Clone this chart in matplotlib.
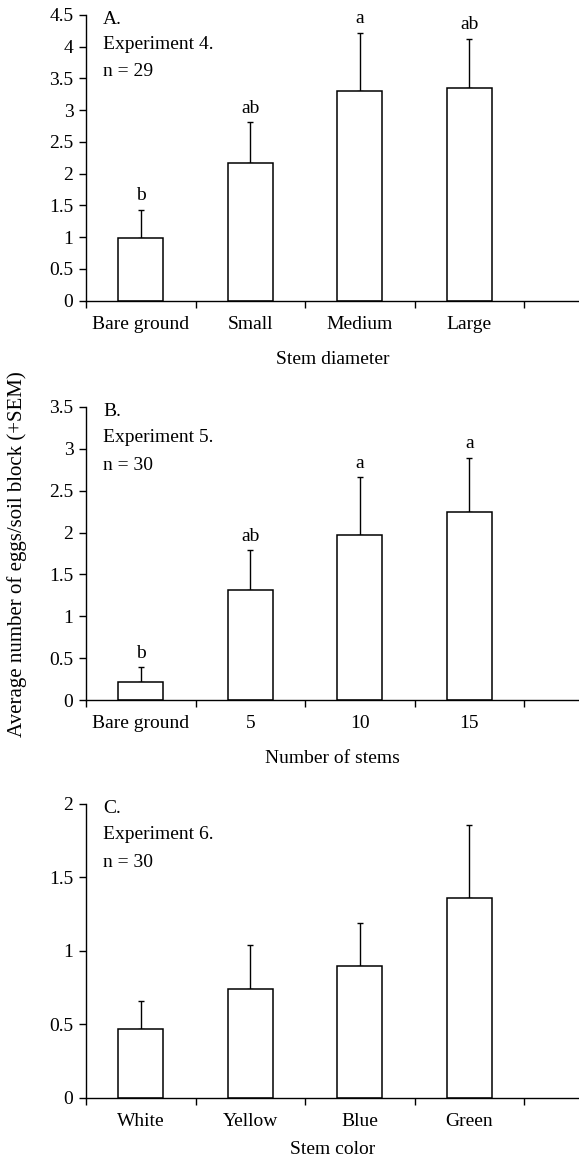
import numpy as np
import matplotlib
matplotlib.use('Agg')
import matplotlib.pyplot as plt

plt.rcParams['font.family'] = ['Liberation Serif', 'DejaVu Serif']

# panel A
cats_a = ['Bare ground', 'Small', 'Medium', 'Large']
mean_a = [0.98, 2.16, 3.30, 3.34]
top_a = [1.43, 2.81, 4.22, 4.12]
sig_a = ['b', 'ab', 'a', 'ab']

# panel B
cats_b = ['Bare ground', '5', '10', '15']
mean_b = [0.21, 1.31, 1.97, 2.24]
top_b = [0.39, 1.79, 2.66, 2.89]
sig_b = ['b', 'ab', 'a', 'a']

# panel C
cats_c = ['White', 'Yellow', 'Blue', 'Green']
mean_c = [0.47, 0.74, 0.90, 1.36]
top_c = [0.66, 1.04, 1.19, 1.86]

fs = 14


def panel(ax, cats, mean, top, sig, ymax, ystep, title, n, xlabel, lpad=13):
    x = np.arange(len(cats))
    mean = np.array(mean)
    top = np.array(top)
    ax.bar(x, mean, width=0.41, color='white', edgecolor='black', linewidth=1.1, zorder=2)
    ax.errorbar(x, mean, yerr=[np.zeros(len(x)), top - mean], fmt='none',
                ecolor='black', elinewidth=1.0, capsize=2.5, capthick=1.0, zorder=1)
    if sig:
        for xi, t, s in zip(x, top, sig):
            ax.annotate(s, (xi, t), xytext=(0, 4), textcoords='offset points',
                        ha='center', va='bottom', fontsize=fs)
    ax.set_xlim(-0.5, 4.0)
    ax.set_ylim(0, ymax)
    ticks = np.arange(0, ymax + ystep / 2, ystep)
    ax.set_yticks(ticks)
    ax.set_yticklabels(['%g' % t for t in ticks], fontsize=fs)
    ax.set_xticks(x)
    ax.set_xticklabels(cats, fontsize=fs)
    ax.set_xticks(np.arange(-0.5, 4.0, 1.0), minor=True)
    ax.tick_params(axis='x', which='major', length=0, pad=11)
    ax.tick_params(axis='x', which='minor', length=5, width=1, direction='out')
    ax.tick_params(axis='y', length=5, width=1, direction='out', pad=4)
    for s in ['top', 'right']:
        ax.spines[s].set_visible(False)
    for s in ['left', 'bottom']:
        ax.spines[s].set_linewidth(1)
    ax.set_xlabel(xlabel, fontsize=fs, labelpad=lpad)
    ax.text(0.035, 0.985, title, transform=ax.transAxes, fontsize=fs, va='center')
    ax.text(0.035, 0.895, n[0], transform=ax.transAxes, fontsize=fs, va='center')
    ax.text(0.035, 0.80, n[1], transform=ax.transAxes, fontsize=fs, va='center')


fig = plt.figure(figsize=(5.79, 11.61), dpi=100)
ax1 = fig.add_axes([0.1485, 0.741, 0.8515, 0.2463])
ax2 = fig.add_axes([0.1485, 0.397, 0.8515, 0.2526])
ax3 = fig.add_axes([0.1485, 0.0545, 0.8515, 0.253])

panel(ax1, cats_a, mean_a, top_a, sig_a, 4.5, 0.5, 'A.', ['Experiment 4.', 'n = 29'], 'Stem diameter')
panel(ax2, cats_b, mean_b, top_b, sig_b, 3.5, 0.5, 'B.', ['Experiment 5.', 'n = 30'], 'Number of stems')
panel(ax3, cats_c, mean_c, top_c, None, 2.0, 0.5, 'C.', ['Experiment 6.', 'n = 30'], 'Stem color', lpad=8)

fig.text(0.029, 0.523, 'Average number of eggs/soil block (+SEM)', rotation=90,
         ha='center', va='center', fontsize=15)

fig.savefig('out.png', dpi=100)
